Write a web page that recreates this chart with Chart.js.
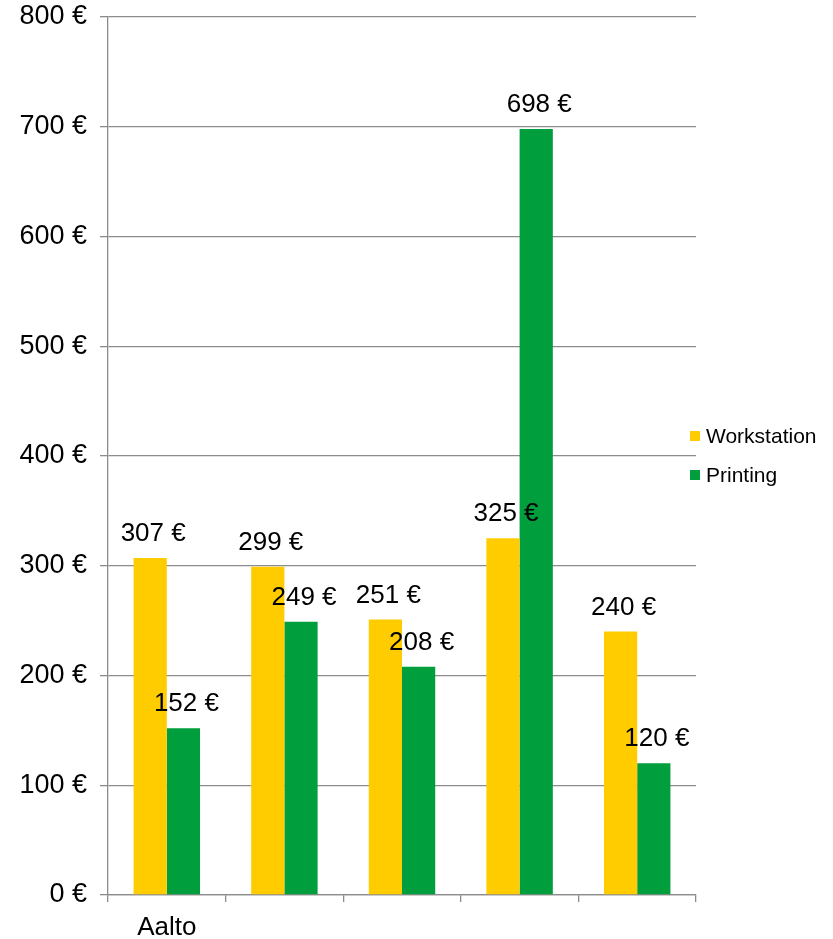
<!DOCTYPE html>
<html>
<head>
<meta charset="utf-8">
<script src="https://cdn.jsdelivr.net/npm/chart.js@4/dist/chart.umd.min.js"></script>
<style>
  html, body { margin: 0; padding: 0; background: #fff; }
  #wrap { width: 833px; height: 939px; position: relative; }
</style>
</head>
<body>
<div id="wrap"><canvas id="costChart"></canvas></div>
<script>
// Chart data
const categories = ['Aalto', '', '', '', ''];
const workstationValues = [307, 299, 251, 325, 240];
const printingValues = [152, 249, 208, 698, 120];
const yTicks = [0, 100, 200, 300, 400, 500, 600, 700, 800];

const FONT = '"Liberation Sans", Arial, sans-serif';
const YELLOW = '#FFCC00';
const GREEN = '#009E3C';
const GRID = '#8C8C8C';

// value labels above each bar
const valueLabels = {
    id: 'valueLabels',
    afterDatasetsDraw(chart) {
        const ctx = chart.ctx;
        ctx.save();
        ctx.font = '26px ' + FONT;
        ctx.fillStyle = '#000';
        ctx.textAlign = 'center';
        ctx.textBaseline = 'alphabetic';
        chart.data.datasets.forEach((ds, i) => {
            chart.getDatasetMeta(i).data.forEach((bar, j) => {
                ctx.fillText(ds.data[j] + ' €', bar.x + 3, bar.y - 17);
            });
        });
        ctx.restore();
    }
};

// legend drawn at the right of the plot
const sideLegend = {
    id: 'sideLegend',
    afterDraw(chart) {
        const ctx = chart.ctx;
        const area = chart.chartArea;
        const midY = (area.top + area.bottom) / 2;
        ctx.save();
        ctx.font = '21px ' + FONT;
        ctx.textBaseline = 'middle';
        chart.data.datasets.forEach((ds, i) => {
            const y = midY - 20 + i * 39;
            ctx.fillStyle = ds.backgroundColor;
            ctx.fillRect(690, y - 5, 10, 10);
            ctx.fillStyle = '#000';
            ctx.fillText(ds.label, 706, y + 1);
        });
        ctx.restore();
    }
};

new Chart(document.getElementById('costChart'), {
    type: 'bar',
    data: {
        labels: categories,
        datasets: [
            {
                label: 'Workstation',
                data: workstationValues,
                backgroundColor: YELLOW,
                borderWidth: 0
            },
            {
                label: 'Printing',
                data: printingValues,
                backgroundColor: GREEN,
                borderWidth: 0
            }
        ]
    },
    options: {
        responsive: true,
        maintainAspectRatio: false,
        animation: false,
        layout: {
            padding: { top: 17, right: 137, left: 0, bottom: 0 }
        },
        datasets: {
            bar: {
                categoryPercentage: 0.565,
                barPercentage: 1.0
            }
        },
        plugins: {
            legend: { display: false },
            tooltip: { enabled: false }
        },
        scales: {
            x: {
                afterFit: s => { s.height = 44; s.paddingLeft = 0; s.paddingRight = 0; },
                grid: {
                    offset: true,
                    drawOnChartArea: false,
                    drawTicks: true,
                    tickLength: 7,
                    color: GRID,
                    lineWidth: 1.3
                },
                border: { color: GRID, width: 1.3 },
                ticks: {
                    color: '#000',
                    font: { family: FONT, size: 26 },
                    padding: 10,
                    maxRotation: 0,
                    autoSkip: false
                }
            },
            y: {
                min: 0,
                max: 800,
                afterFit: s => { s.width = 108; s.paddingTop = 0; s.paddingBottom = 0; },
                afterBuildTicks: s => { s.ticks = yTicks.map(v => ({ value: v })); },
                grid: {
                    color: GRID,
                    lineWidth: 1.3,
                    drawTicks: true,
                    tickLength: 8
                },
                border: { color: GRID, width: 1.3 },
                ticks: {
                    color: '#000',
                    font: { family: FONT, size: 27 },
                    padding: 13,
                    callback: v => v + ' €'
                }
            }
        }
    },
    plugins: [valueLabels, sideLegend]
});
</script>
</body>
</html>
